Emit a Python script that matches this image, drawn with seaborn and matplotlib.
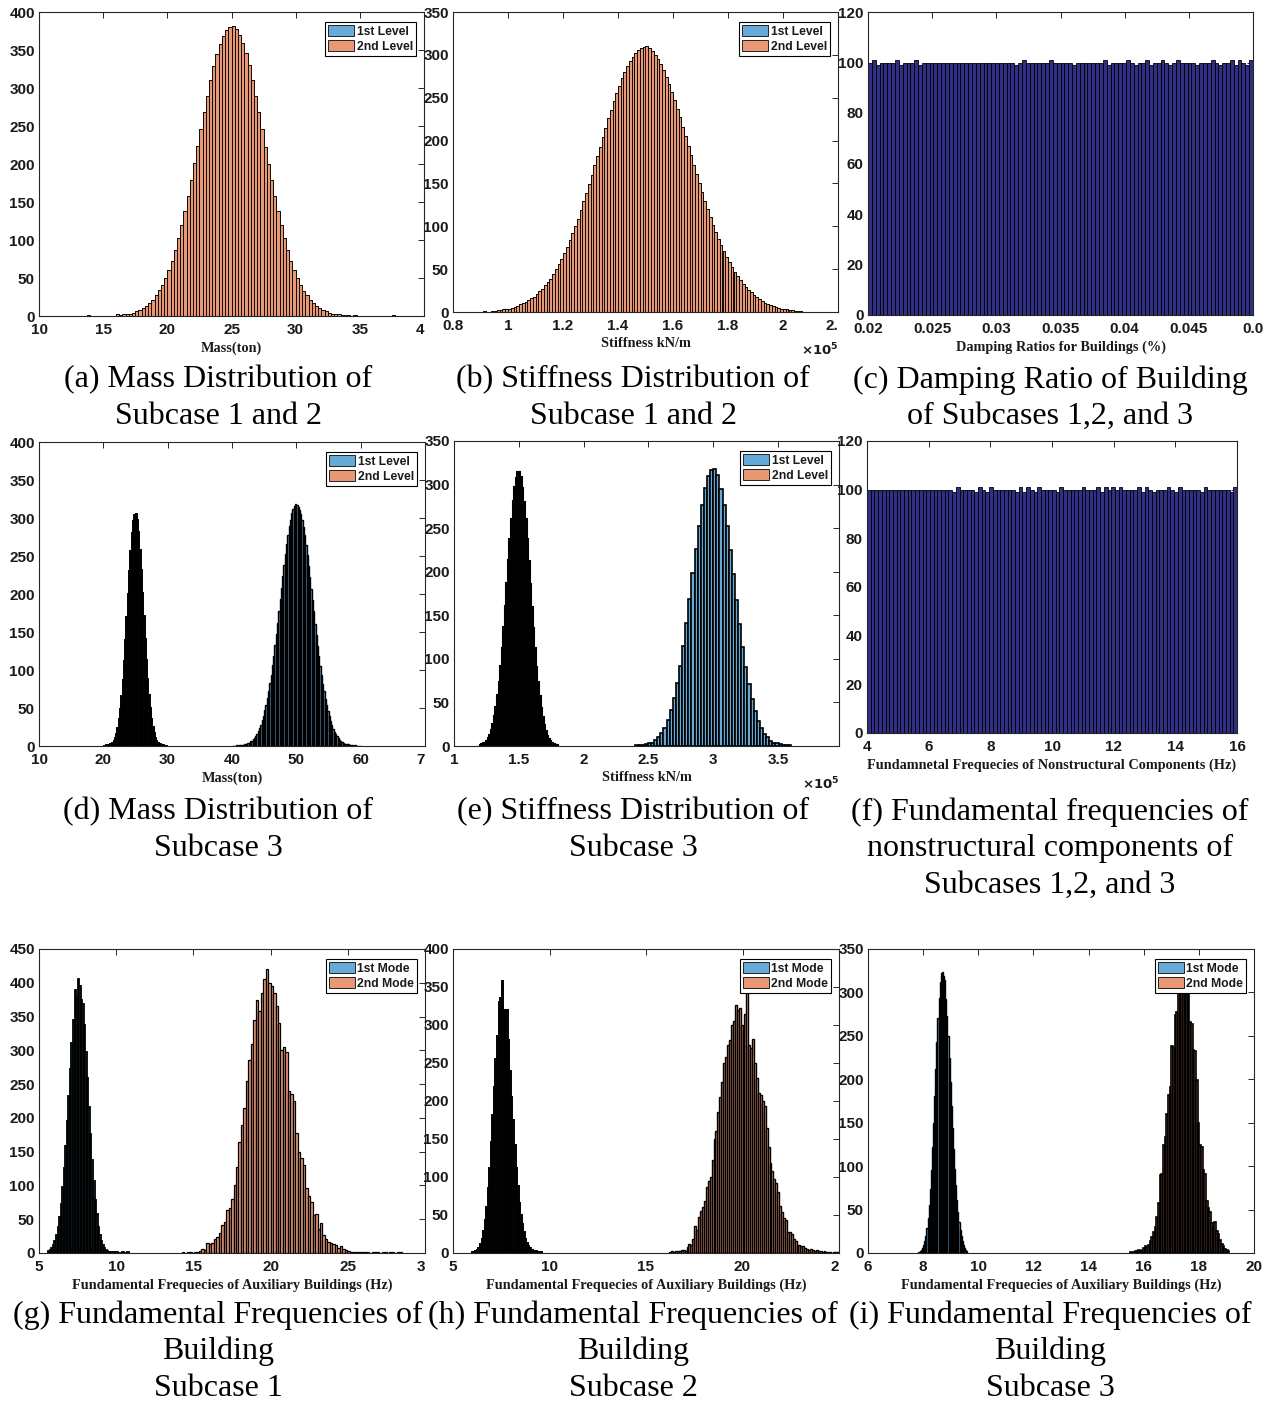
import numpy as np
import pandas as pd
import matplotlib
matplotlib.use("Agg")
import matplotlib.pyplot as plt
import seaborn as sns
from matplotlib.patches import Patch

# ---------------- data (bin start, bin width, counts per bin) ----------------
# (a) mass, subcase 1 and 2 (both levels share the same distribution)
mass_a_start, mass_a_width = 13.75, 0.25
mass_a_counts = [1, 0, 0, 0, 0, 0, 0, 0, 0, 3, 1, 2, 2, 3, 4, 6, 8, 10, 13, 17,
                 21, 27, 34, 41, 50, 61, 73, 87, 103, 120, 138, 158, 179, 201, 224, 246, 269, 290, 310, 329,
                 345, 358, 369, 376, 380,
                 381, 378, 370, 359, 346, 330, 311, 290, 268, 246, 223, 200, 179, 158, 138, 120, 103, 87, 73, 61,
                 50, 41, 33, 27, 21, 17, 13, 10, 8, 6, 4, 3, 3, 2, 1, 1, 1, 0, 1, 0,
                 0, 0, 0, 0, 0, 0, 0, 0, 0, 0, 1]

# (b) stiffness, subcase 1 and 2 (x1e5 kN/m)
stiff_b_start, stiff_b_width = 0.91, 0.01
stiff_b_counts = [1, 0, 0, 1, 1, 2, 2, 3, 3, 4, 5, 6, 7, 9, 10, 12, 14, 16, 18, 21,
                  24, 27, 31, 35, 39, 44, 50, 56, 62, 69, 76, 84, 92, 100, 109, 119, 129, 139, 149, 160,
                  171, 182, 193, 204, 215, 226, 236, 246, 255, 264, 273, 280, 287, 293, 298, 302, 306, 308, 309,
                  310, 308, 305, 300, 295, 289, 282, 274, 266, 257, 247, 237, 227, 216, 205, 194, 183, 172, 161, 150,
                  140, 130, 120, 111, 102, 93, 85, 78, 71, 64, 58, 52, 47, 42, 37, 33, 29, 26, 23, 20,
                  17, 15, 13, 11, 9, 8, 7, 6, 5, 4, 3, 3, 2, 2, 1, 1, 1]

# (c) damping ratio of buildings
damp_c_start, damp_c_width = 0.02, 0.0003
damp_c_counts = [100, 101, 99, 100, 100, 100, 100, 101, 99, 100, 100, 100, 101, 99, 100, 100, 100, 100, 100, 100,
                 100, 100, 100, 100, 100, 100, 100, 100, 100, 100, 100, 100, 100, 100, 100, 100, 100, 100, 99, 100,
                 101, 100, 100, 100, 100, 100, 100, 101, 100, 100, 100, 100, 100, 99, 100, 100, 100, 100, 100, 100,
                 100, 101, 99, 100, 100, 100, 100, 101, 100, 99, 100, 100, 101, 99, 100, 100, 101, 100, 99, 100,
                 101, 100, 100, 100, 100, 99, 100, 100, 100, 101, 100, 99, 100, 100, 101, 99, 101, 100, 99, 101]

# (d) mass, subcase 3
mass_d_l2_start, mass_d_l2_width = 20.0, 0.2
mass_d_l2_counts = [0, 0, 1, 1, 1, 2, 3, 4, 7, 11, 16, 24, 35, 49, 66, 87, 112, 140, 170, 200,
                    230, 257, 280, 296, 304,
                    305, 297, 281, 258, 231, 201, 171, 141, 113, 88, 67, 50, 36, 25, 17, 11, 7, 4, 3, 2,
                    1, 1, 0, 0, 0]
mass_d_l1_start, mass_d_l1_width = 40.0, 0.2
mass_d_l1_counts = [0, 0, 0, 1, 0, 1, 1, 1, 1, 2, 2, 3, 4, 4, 6, 7, 9, 11, 13, 16,
                    20, 24, 28, 34, 40, 47, 54, 63, 73, 83, 94, 106, 119, 133, 147, 162, 178, 193, 208, 224,
                    238, 252, 266, 278, 289, 298, 306, 312, 316, 318,
                    317, 315, 311, 305, 297, 288, 277, 265, 251, 237, 223, 207, 192, 177, 161, 146, 132, 118, 105, 93,
                    82, 72, 62, 54, 46, 39, 33, 28, 23, 19, 16, 13, 10, 8, 7, 5, 4, 3, 3, 2,
                    2, 1, 1, 1, 0, 1, 0, 0, 0, 0]

# (e) stiffness, subcase 3 (x1e5 kN/m)
stiff_e_l2_start, stiff_e_l2_width = 1.2, 0.012
stiff_e_l2_counts = [1, 2, 3, 4, 6, 9, 13, 18, 25, 34, 45, 58, 74, 92, 113, 136, 161, 187, 213, 238,
                     261, 281, 297, 308, 314,
                     315, 309, 296, 280, 260, 237, 212, 186, 160, 135, 112, 91, 73, 57, 44, 33, 24, 17, 12, 8,
                     6, 4, 2, 1, 1]
stiff_e_l1_start, stiff_e_l1_width = 2.4, 0.024
stiff_e_l1_counts = [1, 1, 1, 2, 3, 4, 7, 10, 15, 21, 30, 41, 55, 72, 92, 115, 141, 169, 198, 226,
                     253, 277, 296, 310, 317,
                     318, 311, 295, 276, 252, 225, 197, 168, 140, 114, 91, 71, 54, 40, 29, 21, 14, 10, 6, 4,
                     3, 2, 1, 1, 1]

# (f) fundamental frequencies of nonstructural components
freq_f_start, freq_f_width = 4.0, 0.12
freq_f_counts = [100, 100, 100, 100, 100, 100, 100, 100, 100, 100, 100, 100, 100, 100, 100, 100, 100, 100, 100, 100,
                 100, 100, 100, 99, 101, 100, 100, 100, 100, 99, 101, 100, 99, 101, 100, 100, 100, 100, 100, 100,
                 99, 101, 99, 101, 100, 99, 101, 100, 100, 100, 100, 99, 101, 100, 100, 100, 100, 100, 101, 100,
                 100, 100, 101, 99, 101, 100, 101, 100, 101, 100, 100, 100, 100, 101, 99, 101, 100, 99, 100, 100,
                 100, 101, 100, 99, 101, 100, 100, 100, 100, 100, 99, 101, 100, 100, 100, 100, 100, 100, 99, 101]

# (g) building frequencies, subcase 1
freq_g_m1_start, freq_g_m1_width = 5.6, 0.1
freq_g_m1_counts = [3, 5, 8, 12, 18, 26, 38, 53, 73, 97, 126, 158, 195, 233, 273, 311, 345, 390, 378, 405,
                    395, 375, 369, 338, 298, 259, 216, 176, 137, 106, 78, 57, 39, 27, 18, 12, 7, 4, 3, 2,
                    1, 1, 1, 0, 1, 0, 0, 0, 1, 0, 0, 1]
freq_g_m2_start, freq_g_m2_width = 14.24, 0.16
freq_g_m2_counts = [1, 0, 1, 1, 0, 2, 1, 3, 6, 4, 15, 13, 15, 20, 24, 30, 42, 46, 63, 67,
                    80, 100, 128, 165, 190, 215, 255, 285, 310, 345, 375, 358, 385, 405, 420, 400, 395, 385, 365, 340,
                    300, 305, 298, 240, 236, 225, 178, 150, 140, 130, 96, 85, 75, 56, 58, 36, 44, 27, 20, 17,
                    15, 14, 12, 8, 10, 6, 4, 3, 2, 1, 2, 2, 1, 2, 1, 1, 0, 1, 2, 1,
                    0, 1, 1, 0, 1, 1, 0, 1, 1]

# (h) building frequencies, subcase 2
freq_h_m1_start, freq_h_m1_width = 6.0, 0.08
freq_h_m1_counts = [1, 1, 2, 4, 7, 12, 18, 29, 43, 61, 85, 112, 146, 182, 218, 255, 286, 330, 335, 358,
                    320, 318, 320, 280, 240, 205, 175, 142, 112, 88, 66, 50, 38, 28, 19, 13, 9, 6, 4, 3,
                    2, 2, 1, 1, 1]
freq_h_m2_start, freq_h_m2_width = 16.2, 0.1
freq_h_m2_counts = [1, 2, 1, 2, 3, 3, 4, 4, 3, 8, 12, 10, 18, 35, 30, 48, 55, 60, 68, 87,
                    95, 100, 122, 150, 160, 186, 205, 225, 250, 258, 274, 280, 300, 305, 326, 320, 322, 300, 293, 315,
                    350, 274, 270, 281, 250, 230, 210, 208, 200, 193, 165, 140, 118, 108, 97, 92, 80, 62, 54, 46,
                    43, 28, 27, 25, 18, 16, 11, 11, 9, 9, 7, 5, 4, 5, 4, 3, 4, 2, 2, 1,
                    2, 1, 1, 1, 0, 1, 1, 1]

# (i) building frequencies, subcase 3
freq_i_m1_start, freq_i_m1_width = 7.8, 0.04
freq_i_m1_counts = [1, 1, 2, 4, 6, 9, 14, 20, 29, 40, 55, 74, 96, 122, 150, 181, 212, 243, 271, 294,
                    312, 322, 324, 319, 314, 293, 273, 250, 224, 197, 169, 144, 120, 97, 78, 61, 47, 36, 26, 19,
                    14, 9, 6, 4, 2]
freq_i_m2_start, freq_i_m2_width = 15.5, 0.06
freq_i_m2_counts = [1, 0, 1, 2, 2, 3, 2, 4, 6, 8, 7, 9, 14, 18, 24, 30, 42, 57, 90, 91,
                    124, 134, 160, 182, 191, 238, 236, 274, 278, 300, 318, 330, 325, 335, 320, 305, 266, 264, 234, 232,
                    199, 150, 124, 122, 95, 91, 60, 52, 47, 34, 30, 36, 25, 22, 15, 10, 8, 5, 3, 2]

level_labels = ["1st Level", "2nd Level"]
mode_labels = ["1st Mode", "2nd Mode"]

# ---------------- style ----------------
sns.set_style("white")
plt.rcParams["font.family"] = ["Liberation Sans", "DejaVu Sans"]
plt.rcParams["font.weight"] = "bold"

BLUE = "#66AAD7"
ORANGE = "#E89875"
NAVY = "#302E85"
INK = "#1a1a1a"
W, H = 1270, 1404

fig = plt.figure(figsize=(12.7, 14.04), dpi=100)


def axes_at(x0, y0, x1, y1):
    return fig.add_axes([x0 / W, 1 - y1 / H, (x1 - x0) / W, (y1 - y0) / H])


def hist(ax, start, width, counts, color, lw=0.5):
    n = len(counts)
    edges = [start + width * i for i in range(n + 1)]
    df = pd.DataFrame({"x": [start + width * (i + 0.5) for i in range(n)],
                       "count": [float(c) for c in counts]})
    sns.histplot(data=df, x="x", weights="count", bins=edges, color=color, alpha=1,
                 edgecolor="black", linewidth=lw, ax=ax)


def finish(ax, xlim, xticks, xlabels, ylim, yticks, xlabel, cut_last=True):
    ax.set_xlim(xlim)
    ax.set_ylim(ylim)
    ax.set_xticks(xticks, xlabels)
    ax.set_yticks(yticks, [str(v) for v in yticks])
    if cut_last:
        ax.get_xticklabels()[-1].set_horizontalalignment("right")
    ax.tick_params(direction="in", length=4, width=0.7, top=True, right=True,
                   labelsize=11, colors="#262626", labelcolor=INK)
    ax.tick_params(axis="x", pad=5)
    ax.tick_params(axis="y", pad=3)
    for s in ax.spines.values():
        s.set_color("#262626")
        s.set_linewidth(0.8)
    ax.set_ylabel("")
    ax.set_xlabel(xlabel, family="Liberation Serif", fontweight="bold",
                  fontsize=10.3, labelpad=3, color=INK)


def legend(ax, labels):
    handles = [Patch(facecolor=BLUE, edgecolor="#222222", linewidth=0.7, label=labels[0]),
               Patch(facecolor=ORANGE, edgecolor="#222222", linewidth=0.7, label=labels[1])]
    bb = ax.get_position()
    wpx, hpx = bb.width * W, bb.height * H
    leg = ax.legend(handles=handles, loc="upper right",
                    bbox_to_anchor=(1 - 8 / wpx, 1 - 10 / hpx), borderaxespad=0,
                    fontsize=8.7, frameon=True, fancybox=False, edgecolor="black",
                    framealpha=1, borderpad=0.25, labelspacing=0.2,
                    handlelength=2.15, handleheight=1.0, handletextpad=0.2)
    for t in leg.get_texts():
        t.set_color(INK)
    leg.get_frame().set_linewidth(0.8)
    leg.set_zorder(10)


def exponent(ax):
    ax.text(1.0, -0.098, r"$\times10^5$", transform=ax.transAxes, ha="right", va="top",
            fontsize=9.5, color=INK)


def caption(cx, cy, lines, step=36.5):
    for i, line in enumerate(lines):
        fig.text(cx / W, 1 - (cy + i * step) / H, line, ha="center", va="center",
                 family="Liberation Serif", fontweight="normal", fontsize=23, color="black")


# (a)
ax = axes_at(39, 12, 424, 316)
hist(ax, mass_a_start, mass_a_width, mass_a_counts, BLUE, 0.6)
hist(ax, mass_a_start, mass_a_width, mass_a_counts, ORANGE, 0.6)
finish(ax, (10, 40), [10, 15, 20, 25, 30, 35, 40], ["10", "15", "20", "25", "30", "35", "4"],
       (0, 400), list(range(0, 401, 50)), "Mass(ton)")
legend(ax, level_labels)

# (b)
ax = axes_at(453, 12, 838, 312)
hist(ax, stiff_b_start, stiff_b_width, stiff_b_counts, BLUE, 0.6)
hist(ax, stiff_b_start, stiff_b_width, stiff_b_counts, ORANGE, 0.6)
finish(ax, (0.8, 2.2), [0.8, 1.0, 1.2, 1.4, 1.6, 1.8, 2.0, 2.2],
       ["0.8", "1", "1.2", "1.4", "1.6", "1.8", "2", "2."],
       (0, 350), list(range(0, 351, 50)), "Stiffness kN/m")
exponent(ax)
legend(ax, level_labels)

# (c)
ax = axes_at(868, 12, 1253, 315)
hist(ax, damp_c_start, damp_c_width, damp_c_counts, NAVY, 0.6)
finish(ax, (0.02, 0.05), [0.02, 0.025, 0.03, 0.035, 0.04, 0.045, 0.05],
       ["0.02", "0.025", "0.03", "0.035", "0.04", "0.045", "0.0"],
       (0, 120), list(range(0, 121, 20)), "Damping Ratios for Buildings (%)", cut_last=False)

# (d)
ax = axes_at(39, 442, 425, 746)
hist(ax, mass_d_l1_start, mass_d_l1_width, mass_d_l1_counts, BLUE, 1.0)
hist(ax, mass_d_l2_start, mass_d_l2_width, mass_d_l2_counts, ORANGE, 1.4)
finish(ax, (10, 70), [10, 20, 30, 40, 50, 60, 70], ["10", "20", "30", "40", "50", "60", "7"],
       (0, 400), list(range(0, 401, 50)), "Mass(ton)")
legend(ax, level_labels)

# (e)
ax = axes_at(454, 441, 839, 746)
hist(ax, stiff_e_l1_start, stiff_e_l1_width, stiff_e_l1_counts, BLUE, 1.2)
hist(ax, stiff_e_l2_start, stiff_e_l2_width, stiff_e_l2_counts, ORANGE, 1.5)
finish(ax, (1.0, 3.97), [1.0, 1.5, 2.0, 2.5, 3.0, 3.5], ["1", "1.5", "2", "2.5", "3", "3.5"],
       (0, 350), list(range(0, 351, 50)), "Stiffness kN/m", cut_last=False)
exponent(ax)
legend(ax, level_labels)

# (f)
ax = axes_at(867, 441, 1237, 733)
hist(ax, freq_f_start, freq_f_width, freq_f_counts, NAVY, 0.6)
finish(ax, (4, 16), [4, 6, 8, 10, 12, 14, 16], ["4", "6", "8", "10", "12", "14", "16"],
       (0, 120), list(range(0, 121, 20)),
       "Fundamnetal Frequecies of Nonstructural Components (Hz)", cut_last=False)

# (g)
ax = axes_at(39, 949, 425, 1253)
hist(ax, freq_g_m1_start, freq_g_m1_width, freq_g_m1_counts, BLUE, 1.3)
hist(ax, freq_g_m2_start, freq_g_m2_width, freq_g_m2_counts, ORANGE, 0.9)
finish(ax, (5, 30), [5, 10, 15, 20, 25, 30], ["5", "10", "15", "20", "25", "3"],
       (0, 450), list(range(0, 451, 50)), "Fundamental Frequecies of Auxiliary Buildings (Hz)")
legend(ax, mode_labels)

# (h)
ax = axes_at(453, 949, 839, 1253)
hist(ax, freq_h_m1_start, freq_h_m1_width, freq_h_m1_counts, BLUE, 1.4)
hist(ax, freq_h_m2_start, freq_h_m2_width, freq_h_m2_counts, ORANGE, 1.0)
finish(ax, (5, 25), [5, 10, 15, 20, 25], ["5", "10", "15", "20", "2"],
       (0, 400), list(range(0, 401, 50)), "Fundamental Frequecies of Auxiliary Buildings (Hz)")
legend(ax, mode_labels)

# (i)
ax = axes_at(868, 949, 1254, 1253)
hist(ax, freq_i_m1_start, freq_i_m1_width, freq_i_m1_counts, BLUE, 1.0)
hist(ax, freq_i_m2_start, freq_i_m2_width, freq_i_m2_counts, ORANGE, 1.2)
finish(ax, (6, 20), [6, 8, 10, 12, 14, 16, 18, 20], ["6", "8", "10", "12", "14", "16", "18", "20"],
       (0, 350), list(range(0, 351, 50)), "Fundamental Frequecies of Auxiliary Buildings (Hz)",
       cut_last=False)
legend(ax, mode_labels)

# captions
caption(218, 380, ["(a) Mass Distribution of", "Subcase 1 and 2"])
caption(633, 380, ["(b) Stiffness Distribution of", "Subcase 1 and 2"])
caption(1050, 380, ["(c) Damping Ratio of Building", "of Subcases 1,2, and 3"])
caption(218, 812, ["(d) Mass Distribution of", "Subcase 3"])
caption(633, 812, ["(e) Stiffness Distribution of", "Subcase 3"])
caption(1050, 812, ["(f) Fundamental frequencies of", "nonstructural components of", "Subcases 1,2, and 3"])
caption(218, 1315, ["(g) Fundamental Frequencies of", "Building", "Subcase 1"])
caption(633, 1315, ["(h) Fundamental Frequencies of", "Building", "Subcase 2"])
caption(1050, 1315, ["(i) Fundamental Frequencies of", "Building", "Subcase 3"])

fig.savefig("out.png", dpi=100, facecolor="white")
